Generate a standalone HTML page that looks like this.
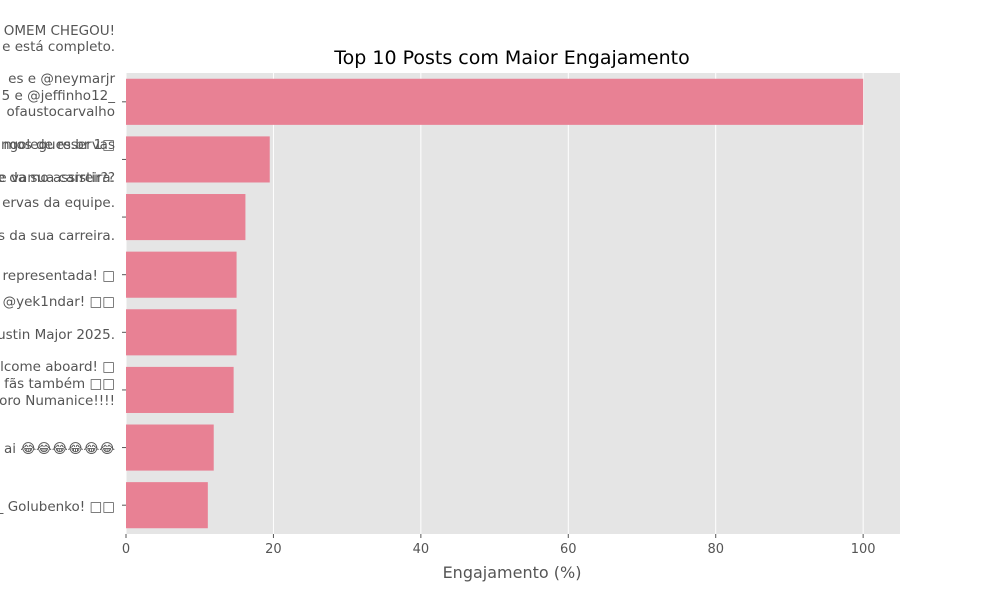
<!DOCTYPE html>
<html><head><meta charset="utf-8"><style>
body{margin:0;background:#fff;width:1000px;height:600px;overflow:hidden;font-family:"Liberation Sans","DejaVu Sans",sans-serif}
svg text{font-family:"DejaVu Sans","Liberation Sans",sans-serif}
</style></head><body>
<svg id="chart" width="1000" height="600" xmlns="http://www.w3.org/2000/svg">
<rect x="126" y="73" width="774" height="461" fill="#e5e5e5"/>
<g id="grid"></g><g id="bars"></g><g id="ylabels"></g><g id="xticks"></g>
<text x="512" y="64" text-anchor="middle" font-size="19" fill="#000">Top 10 Posts com Maior Engajamento</text>
<text x="512" y="578" text-anchor="middle" font-size="16" fill="#555">Engajamento (%)</text>
</svg>
<script>
const values=[100,19.5,16.2,15.0,15.0,14.6,11.9,11.1];
const xTicks=[0,20,40,60,80,100];
const labelLines=[
 ["OMEM CHEGOU!",30],["e está completo.",46],
 ["es e @neymarjr",78],["5 e @jeffinho12_",95],["ofaustocarvalho",111],
 ["ngolegues.br 1□",144],["mos de reservas",144],["e vamo assistir??",177],["e da sua carreira.",177],
 ["ervas da equipe.",202],["s da sua carreira.",235],
 ["representada! □",275],[", @yek1ndar! □□",301],["ustin Major 2025.",334],
 ["lcome aboard! □",366],["s fãs também □□",383],["oro Numanice!!!!",400],
 ["ai 😂😂😂😂😂😂",448],["y_ Golubenko! □□",506]
];
const NS="http://www.w3.org/2000/svg";
const x0=126,xMax=105,pw=774,plotTop=73,ph=461;
const xs=v=>x0+v/xMax*pw;
const n=values.length,band=ph/n;
const g=document.getElementById('grid'),b=document.getElementById('bars'),xt=document.getElementById('xticks'),yl=document.getElementById('ylabels');
xTicks.forEach(t=>{
 const l=document.createElementNS(NS,'line');
 
 
 l.setAttribute('x1',xs(t));l.setAttribute('x2',xs(t));l.setAttribute('y1',plotTop);l.setAttribute('y2',plotTop+ph);l.setAttribute('stroke','#fff');
 g.appendChild(l);
 const tx=document.createElementNS(NS,'text');
 
 
 tx.setAttribute('x',xs(t));tx.setAttribute('y',553);tx.setAttribute('text-anchor','middle');tx.setAttribute('font-size','13');tx.setAttribute('fill','#555');
 tx.textContent=t;xt.appendChild(tx);
 const tk=document.createElementNS(NS,'line');
 
 
 tk.setAttribute('x1',xs(t));tk.setAttribute('x2',xs(t));tk.setAttribute('y1',plotTop+ph);tk.setAttribute('y2',plotTop+ph+4);tk.setAttribute('stroke','#555');
 xt.appendChild(tk);
});
values.forEach((v,i)=>{
 const cy=plotTop+band*(i+0.5);
 const r=document.createElementNS(NS,'rect');
 
 
 r.setAttribute('x',x0);r.setAttribute('y',cy-band*0.4);r.setAttribute('width',xs(v)-x0);r.setAttribute('height',band*0.8);r.setAttribute('fill','#e88194');
 b.appendChild(r);
 const tk=document.createElementNS(NS,'line');
 
 
 tk.setAttribute('x1',x0-4);tk.setAttribute('x2',x0);tk.setAttribute('y1',cy);tk.setAttribute('y2',cy);tk.setAttribute('stroke','#555');
 yl.appendChild(tk);
});
labelLines.forEach(([s,y])=>{
 const t=document.createElementNS(NS,'text');
 
 
 t.setAttribute('x',115);t.setAttribute('y',y+5);t.setAttribute('text-anchor','end');t.setAttribute('font-size','13.5');t.setAttribute('fill','#555');
 t.textContent=s;yl.appendChild(t);
});
</script>
</body></html>
